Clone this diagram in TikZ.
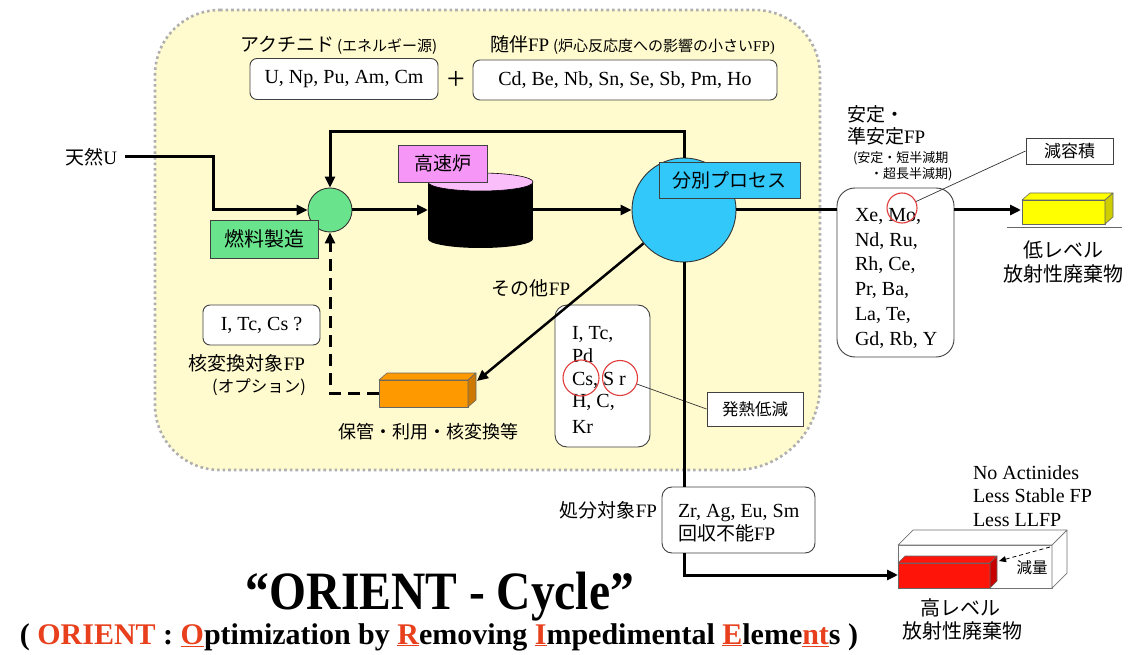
\documentclass[tikz,border=0pt]{standalone}
\usepackage{fontspec}
\usepackage{graphicx}
\setmainfont{Liberation Serif}
\newfontfamily\jp{Noto Sans CJK JP}
\usetikzlibrary{arrows.meta}
\definecolor{regionfill}{RGB}{255,251,206}
\definecolor{regionline}{RGB}{175,175,175}
\definecolor{fuelgreen}{RGB}{105,228,140}
\definecolor{fbrpink}{RGB}{246,150,246}
\definecolor{fbrtop}{RGB}{250,190,250}
\definecolor{sepblue}{RGB}{50,200,250}
\definecolor{lowyellow}{RGB}{255,255,0}
\definecolor{lowyellowside}{RGB}{205,205,0}
\definecolor{storeorange}{RGB}{255,153,0}
\definecolor{storeorangeside}{RGB}{205,120,0}
\definecolor{hlwred}{RGB}{255,20,10}
\definecolor{hlwredside}{RGB}{200,0,0}
\definecolor{markred}{RGB}{225,60,60}
\definecolor{titlered}{RGB}{232,64,28}
\newcommand{\fsz}[1]{\fontsize{#1}{#1}\selectfont}
\begin{document}
\begin{tikzpicture}[x=1pt,y=-1pt,
  flow/.style={line width=3pt,-{Triangle[length=11pt,width=10pt]}},
  plain/.style={line width=3pt},
  thinln/.style={line width=0.7pt,draw=black!80},
  txt/.style={inner sep=0pt,outer sep=0pt},
  rbox/.style={draw=black!75,fill=white,rounded corners=7pt,line width=0.9pt,inner sep=0pt},
  sbox/.style={draw=black!75,line width=0.9pt,inner sep=0pt},
  ringmark/.style={circle,draw=markred,line width=1.1pt,inner sep=0pt},
  blockline/.style={draw=black!60,line width=0.6pt,line join=round}
]
\useasboundingbox (0,0) rectangle (1136,655);
\fill[white] (0,0) rectangle (1136,655);

% region
\path[fill=regionfill,draw=regionline,line width=2.6pt,dash pattern=on 2.6pt off 3pt]
 (220,10) -- (755,10) arc[start angle=270,end angle=360,radius=65]
 -- (820,385) arc[start angle=0,end angle=90,radius=85]
 -- (220,470) arc[start angle=90,end angle=180,radius=65]
 -- (155,75) arc[start angle=180,end angle=270,radius=65] -- cycle;

% top labels and boxes
\node[txt,anchor=base west] (actlbl) at (240,52) {{\fsz{19}\jp アクチニド}\hspace{3pt}{\fsz{15}\jp (エネルギー源)}};
\node[rbox,minimum width=188pt,minimum height=41pt,font=\fsz{20}] (act) at (344,79) {U, Np, Pu, Am, Cm};
\node[txt,font=\fsz{32}] (plus) at (456,80) {+};
\node[txt,anchor=base west] (fplbl) at (490,52) {{\fsz{19}\jp 随伴}{\fsz{19}FP}\hspace{4pt}{\fsz{15}\jp (炉心反応度への影響の小さい}{\fsz{15}FP)}};
\node[rbox,minimum width=304pt,minimum height=40pt,font=\fsz{20}] (cofp) at (625,80) {Cd, Be, Nb, Sn, Se, Sb, Pm, Ho};

% main nodes
\node[txt,anchor=east,font=\fsz{19}] (natu) at (117,157) {{\jp 天然}U};
\node[circle,draw=black!80,line width=0.9pt,fill=fuelgreen,minimum size=44pt,inner sep=0pt] (mix) at (330,210) {};
\node[circle,draw=black!80,line width=0.9pt,fill=sepblue,minimum size=104pt,inner sep=0pt] (sep) at (684,210) {};

% cylinder (fast reactor)
\fill[black] (428,182) rectangle (533,239);
\fill[black] (480.5,239) ellipse[x radius=52.5,y radius=9];
\filldraw[fill=fbrtop,draw=black,line width=0.6pt] (480.5,182) ellipse[x radius=52.5,y radius=9];
\coordinate (fbrW) at (428,210);
\coordinate (fbrE) at (533,210);

% stable FP box
\node[rbox,rounded corners=18pt,minimum width=117pt,minimum height=169pt] (stable) at (895.5,272.5) {};
\foreach \yy/\tt in {222/{Xe, Mo,},247/{Nd, Ru,},271/{Rh, Ce,},296/{Pr, Ba,},320/{La, Te,},345/{Gd, Rb, Y}}
  \node[txt,anchor=base west,font=\fsz{20}] at (855,\yy) {\tt};
\node[txt,anchor=base west,font=\fsz{19}\jp] (st1) at (847,122) {安定・};
\node[txt,anchor=base west,font=\fsz{19}] (st2) at (847,144) {{\jp 準安定}FP};
\node[txt,anchor=base west,font=\fsz{13}\jp] (st3) at (853,163) {(安定・短半減期};
\node[txt,anchor=base west,font=\fsz{13}\jp] (st4) at (870,179) {・超長半減期)};
\node[ringmark,minimum size=30pt] (moring) at (902,208) {};
\node[sbox,fill=white,minimum width=87pt,minimum height=26pt,font=\fsz{17}\jp] (genyo) at (1069.5,151) {減容積};
\draw[thinln] (genyo.west) -- (moring);

% low level waste block
\filldraw[fill=lowyellow,blockline] (1022,200) rectangle (1105,224);
\filldraw[fill=lowyellow,blockline] (1022,200) -- (1030,193) -- (1113,193) -- (1105,200) -- cycle;
\filldraw[fill=lowyellowside,blockline] (1105,200) -- (1113,193) -- (1113,217) -- (1105,224) -- cycle;
\draw[line width=0.8pt,black!60] (1007,227) -- (1122,227);
\coordinate (lowW) at (1021,210);
\node[txt,font=\fsz{20}\jp] (low1) at (1063,250) {低レベル};
\node[txt,font=\fsz{20}\jp] (low2) at (1063,274) {放射性廃棄物};

% storage block
\filldraw[fill=storeorange,blockline] (379,380) rectangle (468,407);
\filldraw[fill=storeorange,blockline] (379,380) -- (387,373) -- (476,373) -- (468,380) -- cycle;
\filldraw[fill=storeorangeside,blockline] (468,380) -- (476,373) -- (476,400) -- (468,407) -- cycle;
\coordinate (storeNE) at (477,381);
\coordinate (storeW) at (379,393);
\node[txt,font=\fsz{18}\jp] (storelbl) at (428,432) {保管・利用・核変換等};
\node[txt,font=\fsz{19}] (otherlbl) at (531,288) {{\jp その他}FP};

% transmutation option
\node[rbox,minimum width=117pt,minimum height=40pt,font=\fsz{20}] (itc) at (261.5,325) {I, Tc, Cs ?};
\node[txt,font=\fsz{19}] (tr1) at (247,363) {{\jp 核変換対象}FP};
\node[txt,font=\fsz{16.5}\jp] (tr2) at (259,387) {(オプション)};

% other FP box
\node[rbox,rounded corners=12pt,minimum width=95pt,minimum height=142pt] (oth) at (602.5,376) {};
\foreach \yy/\tt in {339/{I, Tc,},362/{Pd},385/{Cs, S r},407/{H, C,},433/{Kr}}
  \node[txt,anchor=base west,font=\fsz{20}] at (572,\yy) {\tt};
\node[ringmark,minimum size=36pt] (csring) at (581,378) {};
\node[ringmark,minimum size=35pt] (srring) at (620,378) {};
\node[sbox,fill=white,minimum width=96pt,minimum height=34pt,font=\fsz{16.5}\jp] (heat) at (755,409) {発熱低減};
\draw[thinln] (srring) -- (heat.west);

% disposal FP box
\node[txt,anchor=east,font=\fsz{19}] (displbl) at (657,510) {{\jp 処分対象}FP};
\node[rbox,rounded corners=10pt,minimum width=153pt,minimum height=66pt] (disp) at (738.5,520) {};
\node[txt,anchor=base west,font=\fsz{20}] (disp1) at (678,517) {Zr, Ag, Eu, Sm};
\node[txt,anchor=base west,font=\fsz{19}] (disp2) at (678,540) {{\jp 回収不能}FP};

% high level waste
\filldraw[fill=white,draw=black!55,line width=0.7pt,line join=round] (898,545) rectangle (1052,588);
\filldraw[fill=white,draw=black!55,line width=0.7pt,line join=round] (898,545) -- (913,530) -- (1067,530) -- (1052,545) -- cycle;
\filldraw[fill=white,draw=black!55,line width=0.7pt,line join=round] (1052,545) -- (1067,530) -- (1067,573) -- (1052,588) -- cycle;
\filldraw[fill=hlwred,blockline] (898,563) rectangle (990,588);
\filldraw[fill=hlwred,blockline] (898,563) -- (905,556) -- (997,556) -- (990,563) -- cycle;
\filldraw[fill=hlwredside,blockline] (990,563) -- (997,556) -- (997,581) -- (990,588) -- cycle;
\coordinate (hlwW) at (898,575);
\coordinate (genS) at (1050,547);
\coordinate (redNE) at (999,561);
\node[txt,font=\fsz{15.5}\jp] (genryo) at (1032,568) {減量};
\draw[line width=0.8pt,dash pattern=on 4pt off 3pt,-{Triangle[length=7pt,width=6pt]}] (genS) -- (redNE);
\node[txt,anchor=base west,font=\fsz{20}] (na1) at (973,479) {No Actinides};
\node[txt,anchor=base west,font=\fsz{20}] (na2) at (973,502) {Less Stable FP};
\node[txt,anchor=base west,font=\fsz{20}] (na3) at (973,526) {Less LLFP};
\node[txt,font=\fsz{20}\jp] (high1) at (960,608) {高レベル};
\node[txt,font=\fsz{20}\jp] (high2) at (962,631) {放射性廃棄物};

% connectors
\draw[flow] ([xshift=8pt]natu.east) -- (213,157) |- (mix.west);
\draw[flow] (sep.north) -- ++(0,-26) -| (mix.north);
\draw[flow] (mix.east) -- (fbrW);
\draw[flow] (fbrE) -- (sep.west);
\draw[plain] (sep.east) -- (sep.east -| stable.west);
\draw[flow] (sep.east -| stable.east) -- (lowW);
\draw[flow,line width=2.5pt] (sep) -- (storeNE);
\draw[flow,dash pattern=on 12pt off 7pt] (storeW) -| (mix.south);
\draw[plain] (sep.south) -- (sep.south |- disp.north);
\draw[flow] (sep.south |- disp.south) |- (hlwW);

% labels on top
\node[sbox,fill=fuelgreen,minimum width=108pt,minimum height=38pt,font=\fsz{20}\jp] (fuel) at (264,239) {燃料製造};
\node[sbox,fill=fbrpink,minimum width=89pt,minimum height=37pt,font=\fsz{19}\jp] (fbrlbl) at (442.5,163.5) {高速炉};
\node[sbox,fill=sepblue,minimum width=141pt,minimum height=36pt,font=\fsz{19}\jp] (seplbl) at (729.5,180) {分別プロセス};

% title
\node[txt] (title) at (440,597) {\scalebox{0.88}[1]{\fsz{54}\bfseries “ORIENT - Cycle”}};
\node[txt,font=\fsz{30}\bfseries] (sub) at (439,637) {( \textcolor{titlered}{ORIENT} : \textcolor{titlered}{\underline{O}}ptimization by \textcolor{titlered}{\underline{R}}emoving \textcolor{titlered}{\underline{I}}mpedimental \textcolor{titlered}{\underline{E}}leme\textcolor{titlered}{\underline{nt}}s )};
\end{tikzpicture}
\end{document}
